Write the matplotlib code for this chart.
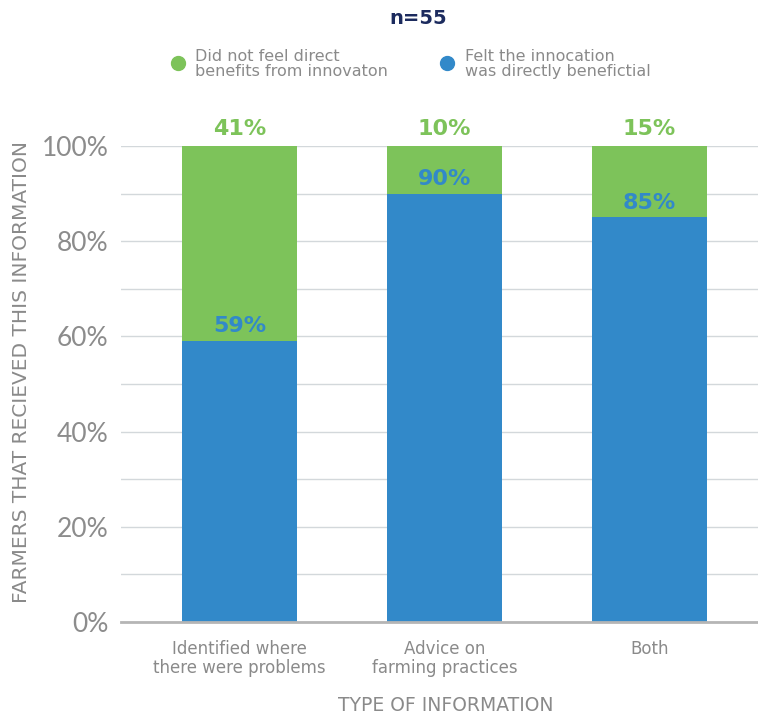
import matplotlib

matplotlib.use("Agg")
import matplotlib.pyplot as plt  # noqa: E402
from matplotlib.lines import Line2D  # noqa: E402

categories = ["Identified where\nthere were problems", "Advice on\nfarming practices", "Both"]
benefit = [59, 90, 85]
no_benefit = [41, 10, 15]
yticks = [0, 20, 40, 60, 80, 100]

GREEN = "#7DC35A"
BLUE = "#3289C9"
GREY = "#8A8A8A"
NAVY = "#1C2B5E"

plt.rcParams["font.family"] = ["DejaVu Sans"]

fig = plt.figure(figsize=(7.58, 7.16), dpi=100)
ax = fig.add_axes([121 / 758, 1 - 622 / 716, 637 / 758, (622 - 146) / 716])

xs = list(range(len(categories)))
ax.bar(xs, benefit, width=0.56, color=BLUE, zorder=3)
ax.bar(xs, no_benefit, width=0.56, bottom=benefit, color=GREEN, zorder=3)

for x, b, n in zip(xs, benefit, no_benefit):
    ax.text(x, 100 + 1.4, f"{n}%", ha="center", va="bottom", color=GREEN,
            fontsize=16, fontweight="bold", clip_on=False)
    ax.text(x, b + 1.0, f"{b}%", ha="center", va="bottom", color=BLUE,
            fontsize=16, fontweight="bold", zorder=4)

ax.set_xlim(-0.58, 2.53)
ax.set_ylim(0, 100)
ax.set_yticks(yticks)
ax.set_yticklabels([f"{t}%" for t in yticks], fontsize=19, color="#8C8C8C", family="Lato")
ax.set_yticks(range(10, 100, 20), minor=True)
ax.set_xticks(xs)
ax.set_xticklabels(categories, fontsize=12, color=GREY, linespacing=1.1)
ax.tick_params(axis="y", which="both", length=0, pad=9)
ax.tick_params(axis="x", length=0, pad=13)
ax.grid(axis="y", which="both", color="#D3D8DB", linewidth=1, zorder=0)
for s in ("top", "right", "left"):
    ax.spines[s].set_visible(False)
ax.spines["bottom"].set_color("#B5B5B5")
ax.spines["bottom"].set_linewidth(2)
ax.spines["bottom"].set_zorder(4)

ax.set_ylabel("FARMERS THAT RECIEVED THIS INFORMATION", fontsize=14.5, color=GREY)
ax.yaxis.set_label_coords(-0.142, 0.525)
ax.set_xlabel("TYPE OF INFORMATION", fontsize=13.5, color=GREY)
ax.xaxis.set_label_coords(0.51, -0.156)

fig.text(418 / 758, 1 - 18 / 716, "n=55", ha="center", va="center", fontsize=14,
         fontweight="bold", color=NAVY)

# legend drawn by hand to match the two-line layout
fig.add_artist(Line2D([178 / 758], [1 - 63 / 716], marker="o", markersize=10,
                      color=GREEN, linestyle="none", transform=fig.transFigure))
fig.add_artist(Line2D([447 / 758], [1 - 63 / 716], marker="o", markersize=10,
                      color=BLUE, linestyle="none", transform=fig.transFigure))
fig.text(195 / 758, 1 - 64 / 716, "Did not feel direct\nbenefits from innovaton", ha="left",
         va="center", fontsize=11.5, color=GREY, linespacing=0.95)
fig.text(465 / 758, 1 - 64 / 716, "Felt the innocation\nwas directly benefictial", ha="left",
         va="center", fontsize=11.5, color=GREY, linespacing=0.95)

fig.savefig("out.png", dpi=100)
